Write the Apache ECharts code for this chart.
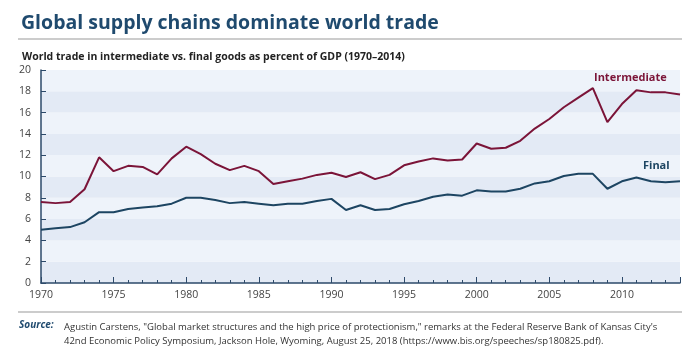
<!DOCTYPE html>
<html>
<head>
<meta charset="utf-8">
<script src="https://cdn.jsdelivr.net/npm/echarts@6/dist/echarts.min.js"></script>
<style>
  html, body { margin: 0; padding: 0; background: #fff; }
  #chart { width: 700px; height: 350px; }
</style>
</head>
<body>
<div id="chart"></div>
<script>
// years 1970-2014
var years = [1970, 1971, 1972, 1973, 1974, 1975, 1976, 1977, 1978, 1979,
  1980, 1981, 1982, 1983, 1984, 1985, 1986, 1987, 1988, 1989,
  1990, 1991, 1992, 1993, 1994, 1995, 1996, 1997, 1998, 1999,
  2000, 2001, 2002, 2003, 2004, 2005, 2006, 2007, 2008, 2009,
  2010, 2011, 2012, 2013, 2014]

var intermediate = [7.6, 7.5, 7.6, 8.8, 11.8, 10.5, 11.0, 10.9, 10.2, 11.7,
  12.8, 12.1, 11.2, 10.6, 11.0, 10.5, 9.3, 9.55, 9.8, 10.15,
  10.35, 9.95, 10.4, 9.75, 10.15, 11.05, 11.4, 11.7, 11.5, 11.6,
  13.1, 12.6, 12.7, 13.35, 14.5, 15.4, 16.5, 17.4, 18.3, 15.1,
  16.8, 18.1, 17.9, 17.9, 17.7]

var finalGoods = [5.0, 5.15, 5.25, 5.7, 6.65, 6.65, 6.95, 7.1, 7.2, 7.45,
  8.0, 8.0, 7.8, 7.5, 7.6, 7.45, 7.3, 7.45, 7.45, 7.7,
  7.9, 6.85, 7.3, 6.85, 6.95, 7.4, 7.7, 8.1, 8.3, 8.2,
  8.7, 8.6, 8.6, 8.85, 9.35, 9.55, 10.05, 10.25, 10.25, 8.85,
  9.55, 9.9, 9.55, 9.45, 9.55]

var title = 'Global supply chains dominate world trade'
var subtitle = 'World trade in intermediate vs. final goods as percent of GDP (1970\u20132014)'
var sourceLines = [
  'Agustin Carstens, "Global market structures and the high price of protectionism," remarks at the Federal Reserve Bank of Kansas City\'s',
  '42nd Economic Policy Symposium, Jackson Hole, Wyoming, August 25, 2018 (https://www.bis.org/speeches/sp180825.pdf).'
]

var navy = '#1f4a6e'
var maroon = '#7b1438'
var lineBlue = '#1d4562'
var font = 'Open Sans'

function pairs(vals) {
  return years.map(function (y, i) { return [y, vals[i]] })
}

var myChart = echarts.init(document.getElementById('chart'))
myChart.setOption({
  animation: false,
  textStyle: { fontFamily: font },
  title: [{
    text: title,
    left: 16, top: 8,
    textStyle: { fontSize: 19.5, fontWeight: 'bold', color: navy, fontFamily: font }
  }, {
    text: subtitle,
    left: 17, top: 47,
    textStyle: { fontSize: 10.5, fontWeight: 'bold', color: '#222', fontFamily: font }
  }],
  grid: { left: 41, right: 20, top: 70, bottom: 67 },
  xAxis: {
    type: 'value',
    min: 1970, max: 2014, interval: 5,
    axisLine: { lineStyle: { color: '#2d4a6a', width: 1.5 } },
    axisTick: { inside: true, length: 6, lineStyle: { color: '#2d4a6a' } },
    minorTick: { show: true, splitNumber: 5, length: 3, lineStyle: { color: '#2d4a6a' } },
    axisLabel: {
      color: '#444', fontSize: 10.5, margin: 7,
      formatter: function (v) { return v % 5 === 0 ? String(v) : '' }
    },
    splitLine: { show: false }
  },
  yAxis: {
    type: 'value',
    min: 0, max: 20, interval: 2,
    axisLine: { show: true, lineStyle: { color: '#2d4a6a', width: 1.5 } },
    axisTick: { show: true, inside: true, length: 5, lineStyle: { color: '#2d4a6a' } },
    axisLabel: { color: '#444', fontSize: 10.5, margin: 10 },
    splitLine: { show: false },
    splitArea: { show: true, areaStyle: { color: ['#e3eaf5', '#eef3fa'] } }
  },
  series: [{
    name: 'Intermediate',
    type: 'line',
    data: pairs(intermediate),
    showSymbol: false,
    lineStyle: { color: maroon, width: 2 }
  }, {
    name: 'Final',
    type: 'line',
    data: pairs(finalGoods),
    showSymbol: false,
    lineStyle: { color: lineBlue, width: 2 }
  }],
  graphic: [
    { type: 'line', z: 100, shape: { x1: 18, y1: 39, x2: 682, y2: 39 }, style: { stroke: '#999', lineWidth: 1 } },
    { type: 'line', z: 100, shape: { x1: 18, y1: 312, x2: 682, y2: 312 }, style: { stroke: '#999', lineWidth: 1 } },
    { type: 'text', z: 100, left: 594, top: 72, style: { text: 'Intermediate', fill: maroon, fontFamily: font, fontWeight: 'bold', fontSize: 11 } },
    { type: 'text', z: 100, left: 643, top: 160, style: { text: 'Final', fill: lineBlue, fontFamily: font, fontWeight: 'bold', fontSize: 11 } },
    { type: 'text', z: 100, left: 19, top: 320, style: { text: 'Source:', fill: navy, fontFamily: font, fontStyle: 'italic', fontWeight: 'bold', fontSize: 10 } },
    { type: 'text', z: 100, left: 64, top: 320, style: { text: sourceLines.join('\n'), fill: '#333', fontFamily: font, fontSize: 9.5, lineHeight: 14 } }
  ]
})
</script>
</body>
</html>
